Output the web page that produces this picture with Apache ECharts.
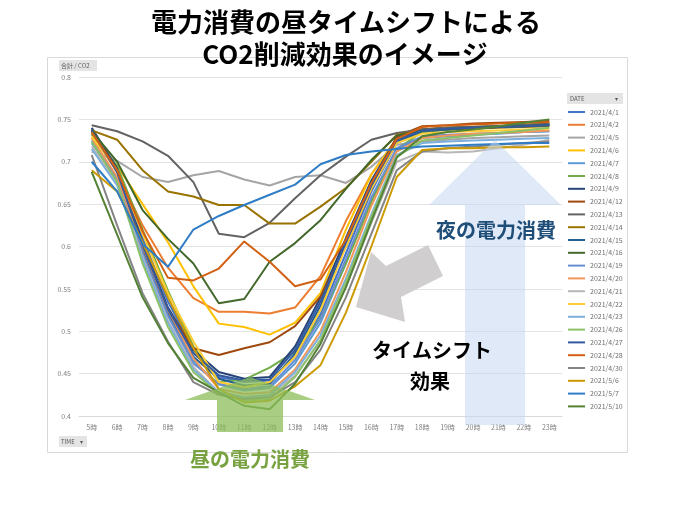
<!DOCTYPE html>
<html><head><meta charset="utf-8">
<script src="https://cdn.jsdelivr.net/npm/echarts@6/dist/echarts.min.js"></script>
<style>html,body{margin:0;padding:0;background:#fff}#c{width:691px;height:513px}</style>
</head><body><div id="c"></div>
<script>
const hours = ['5時','6時','7時','8時','9時','10時','11時','12時','13時','14時','15時','16時','17時','18時','19時','20時','21時','22時','23時'];
const dates = ['2021/4/1','2021/4/2','2021/4/5','2021/4/6','2021/4/7','2021/4/8','2021/4/9','2021/4/12','2021/4/13','2021/4/14','2021/4/15','2021/4/16','2021/4/19','2021/4/20','2021/4/21','2021/4/22','2021/4/23','2021/4/26','2021/4/27','2021/4/28','2021/4/30','2021/5/6','2021/5/7','2021/5/10'];
const colors = ['#4472C4','#ED7D31','#A5A5A5','#FFC000','#5B9BD5','#70AD47','#264478','#9E480E','#636363','#997300','#255E91','#43682B','#698ED0','#F1975A','#B7B7B7','#FFCD33','#7CAFDD','#8CC168','#335AA1','#D26012','#848484','#CC9A00','#2E7DC6','#548235'];

const d0401 = [0.735,0.690,0.610,0.535,0.478,0.446,0.440,0.442,0.470,0.520,0.592,0.665,0.722,0.735,0.738,0.740,0.741,0.742,0.743];
const d0402 = [0.733,0.688,0.625,0.575,0.539,0.523,0.523,0.521,0.528,0.565,0.630,0.685,0.728,0.738,0.740,0.741,0.742,0.742,0.743];
const d0405 = [0.712,0.701,0.682,0.676,0.684,0.689,0.679,0.672,0.682,0.684,0.675,0.694,0.720,0.724,0.726,0.728,0.729,0.730,0.731];
const d0406 = [0.728,0.695,0.650,0.605,0.553,0.509,0.505,0.496,0.510,0.545,0.620,0.685,0.727,0.738,0.740,0.741,0.742,0.742,0.743];
const d0407 = [0.722,0.680,0.595,0.520,0.465,0.437,0.430,0.433,0.462,0.510,0.580,0.655,0.715,0.728,0.730,0.732,0.733,0.735,0.736];
const d0408 = [0.732,0.695,0.620,0.548,0.482,0.440,0.443,0.457,0.476,0.515,0.580,0.652,0.715,0.735,0.738,0.740,0.742,0.744,0.746];
const d0409 = [0.740,0.692,0.605,0.528,0.478,0.452,0.444,0.446,0.482,0.540,0.610,0.678,0.728,0.738,0.740,0.741,0.742,0.743,0.744];
const d0412 = [0.738,0.690,0.600,0.525,0.480,0.472,0.480,0.487,0.506,0.541,0.600,0.668,0.730,0.742,0.743,0.745,0.746,0.747,0.748];
const d0413 = [0.743,0.736,0.724,0.707,0.676,0.615,0.611,0.628,0.657,0.684,0.706,0.726,0.734,0.738,0.740,0.741,0.742,0.743,0.745];
const d0414 = [0.737,0.726,0.690,0.665,0.659,0.649,0.649,0.627,0.627,0.647,0.669,0.700,0.732,0.737,0.738,0.739,0.740,0.741,0.742];
const d0415 = [0.738,0.688,0.598,0.522,0.470,0.444,0.436,0.438,0.474,0.530,0.602,0.670,0.724,0.736,0.738,0.740,0.741,0.742,0.744];
const d0416 = [0.736,0.700,0.643,0.609,0.580,0.533,0.538,0.582,0.604,0.631,0.668,0.702,0.731,0.737,0.739,0.740,0.741,0.742,0.743];
const d0419 = [0.725,0.678,0.592,0.518,0.462,0.438,0.432,0.435,0.466,0.515,0.585,0.658,0.716,0.730,0.732,0.733,0.734,0.735,0.736];
const d0420 = [0.728,0.682,0.600,0.525,0.468,0.432,0.426,0.428,0.455,0.500,0.570,0.648,0.712,0.728,0.731,0.733,0.734,0.735,0.737];
const d0421 = [0.718,0.675,0.588,0.512,0.458,0.428,0.422,0.424,0.448,0.488,0.552,0.628,0.700,0.712,0.711,0.712,0.716,0.720,0.726];
const d0422 = [0.730,0.690,0.615,0.545,0.488,0.440,0.434,0.440,0.470,0.525,0.600,0.668,0.722,0.733,0.735,0.736,0.737,0.738,0.739];
const d0423 = [0.715,0.672,0.585,0.510,0.455,0.428,0.422,0.425,0.452,0.495,0.562,0.638,0.708,0.722,0.724,0.725,0.726,0.727,0.728];
const d0426 = [0.724,0.676,0.580,0.505,0.452,0.426,0.418,0.420,0.446,0.490,0.558,0.635,0.706,0.725,0.728,0.731,0.734,0.737,0.740];
const d0427 = [0.736,0.688,0.602,0.526,0.474,0.448,0.442,0.443,0.478,0.535,0.605,0.672,0.726,0.737,0.739,0.740,0.741,0.742,0.743];
const d0428 = [0.735,0.690,0.618,0.563,0.560,0.574,0.606,0.582,0.553,0.561,0.608,0.675,0.727,0.741,0.743,0.744,0.745,0.746,0.747];
const d0430 = [0.708,0.625,0.545,0.488,0.440,0.425,0.420,0.422,0.440,0.478,0.540,0.615,0.690,0.712,0.716,0.718,0.720,0.722,0.724];
const d0506 = [0.690,0.665,0.605,0.540,0.480,0.432,0.416,0.418,0.435,0.460,0.522,0.600,0.682,0.714,0.716,0.716,0.717,0.717,0.718];
const d0507 = [0.700,0.665,0.603,0.576,0.620,0.636,0.649,0.661,0.673,0.697,0.708,0.712,0.715,0.718,0.719,0.720,0.721,0.722,0.722];
const d0510 = [0.688,0.614,0.540,0.486,0.445,0.428,0.412,0.408,0.438,0.485,0.552,0.630,0.705,0.730,0.735,0.738,0.742,0.746,0.750];

const allData = [d0401,d0402,d0405,d0406,d0407,d0408,d0409,d0412,d0413,d0414,d0415,d0416,d0419,d0420,d0421,d0422,d0423,d0426,d0427,d0428,d0430,d0506,d0507,d0510];

const chart = echarts.init(document.getElementById('c'), null, {renderer:'canvas'});
const FONT = '"Noto Sans CJK JP","Noto Sans",sans-serif';
const series = dates.map((d,i)=>({
  name:d, type:'line', data:allData[i], symbol:'none', smooth:false,
  lineStyle:{width:2, color:colors[i]}, itemStyle:{color:colors[i]}, z:2
}));

function arrowUp(cx, tipY, headY, headHalf, shaftHalf, bottomY){
  return [[cx,tipY],[cx+headHalf,headY],[cx+shaftHalf,headY],[cx+shaftHalf,bottomY],[cx-shaftHalf,bottomY],[cx-shaftHalf,headY],[cx-headHalf,headY]];
}

chart.setOption({
  animation:false,
  color:colors,
  grid:{left:79, right:129, top:77, bottom:97},
  xAxis:{type:'category', data:hours, boundaryGap:true,
    axisLine:{show:true, lineStyle:{color:'#D9D9D9', width:1}}, axisTick:{show:false},
    axisLabel:{color:'#7F7F7F', fontSize:7, margin:8, fontFamily:FONT}},
  yAxis:{type:'value', min:0.4, max:0.8, interval:0.05,
    axisLine:{show:false}, axisTick:{show:false},
    splitLine:{lineStyle:{color:'#E3E3E3', width:1}},
    axisLabel:{color:'#7F7F7F', fontSize:7, margin:8, fontFamily:FONT,
      formatter:v=>String(parseFloat(v.toFixed(2)))}},
  legend:{orient:'vertical', left:568, top:107, padding:0, data:dates, itemWidth:17, itemHeight:2, itemGap:2.8,
    icon:'rect', textStyle:{fontSize:7, color:'#6F6F6F', lineHeight:10, fontFamily:FONT}},
  series:series,
  graphic:[
    {type:'rect', shape:{x:47.5,y:57.5,width:580,height:395}, style:{fill:'none', stroke:'#D9D9D9', lineWidth:1}, z:0},
    {type:'text', x:346, y:22, style:{text:'電力消費の昼タイムシフトによる', font:'bold 26px '+FONT, fill:'#000', textAlign:'center', textVerticalAlign:'middle'}, z:10},
    {type:'text', x:345, y:54, style:{text:'CO2削減効果のイメージ', font:'bold 26px '+FONT, fill:'#000', textAlign:'center', textVerticalAlign:'middle'}, z:10},
    {type:'rect', shape:{x:59,y:60,width:38,height:11}, style:{fill:'#E4E4E4'}, z:10},
    {type:'text', x:61, y:65.5, style:{text:'合計 / CO2', font:'6px '+FONT, fill:'#595959', textVerticalAlign:'middle'}, z:11},
    {type:'rect', shape:{x:567,y:93,width:56,height:11}, style:{fill:'#E4E4E4'}, z:10},
    {type:'text', x:570, y:98.5, style:{text:'DATE', font:'6px '+FONT, fill:'#595959', textVerticalAlign:'middle'}, z:11},
    {type:'text', x:615, y:98.5, style:{text:'▾', font:'6px '+FONT, fill:'#595959', textVerticalAlign:'middle'}, z:11},
    {type:'rect', shape:{x:59,y:436,width:28,height:11}, style:{fill:'#E4E4E4'}, z:10},
    {type:'text', x:61, y:441.5, style:{text:'TIME', font:'6px '+FONT, fill:'#595959', textVerticalAlign:'middle'}, z:11},
    {type:'text', x:80, y:441.5, style:{text:'▾', font:'6px '+FONT, fill:'#595959', textVerticalAlign:'middle'}, z:11},
    {type:'polygon', shape:{points:arrowUp(495,140,205,66,30,425)}, style:{fill:'rgba(196,215,240,0.55)'}, z:20},
    {type:'polygon', shape:{points:arrowUp(250,377,400,65,33,432)}, style:{fill:'rgba(140,190,90,0.75)'}, z:20},
    {type:'polygon', shape:{points:[[356,307],[371,252],[386,266],[428,245],[443,276],[401,297],[405,322]]}, style:{fill:'#D0CECE'}, z:20},
    {type:'text', x:496, y:230, style:{text:'夜の電力消費', font:'bold 20px '+FONT, fill:'#1F4E79', textAlign:'center', textVerticalAlign:'middle'}, z:30},
    {type:'text', x:432, y:350, style:{text:'タイムシフト', font:'bold 20px '+FONT, fill:'#000', textAlign:'center', textVerticalAlign:'middle'}, z:30},
    {type:'text', x:430, y:381, style:{text:'効果', font:'bold 20px '+FONT, fill:'#000', textAlign:'center', textVerticalAlign:'middle'}, z:30},
    {type:'text', x:250, y:459, style:{text:'昼の電力消費', font:'bold 20px '+FONT, fill:'#77A23F', textAlign:'center', textVerticalAlign:'middle'}, z:30}
  ]
});
</script></body></html>
